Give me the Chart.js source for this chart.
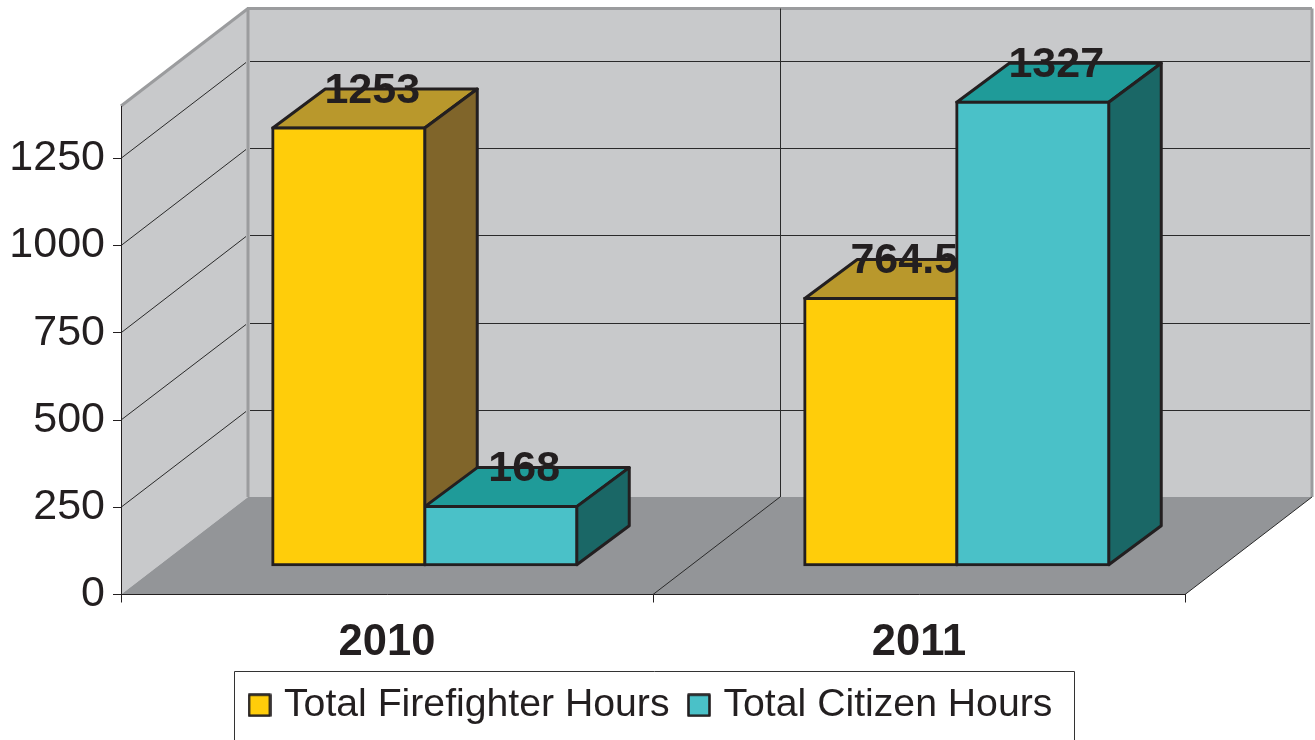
<!DOCTYPE html>
<html>
<head>
<meta charset="utf-8">
<style>html,body{margin:0;padding:0;background:#fff}canvas{display:block}</style>
<script src="https://cdn.jsdelivr.net/npm/chart.js@4"></script>
</head>
<body>
<canvas id="c" width="1315" height="740"></canvas>
<script>
const categories = ['2010', '2011'];
const firefighterHours = [1253, 764.5];
const citizenHours = [168, 1327];
const yTickValues = [0, 250, 500, 750, 1000, 1250];
const yMax = 1400;

const INK = '#231f20';
const FONT = '"Liberation Sans", Arial, sans-serif';
const WALL_DX = 127, WALL_DY = 97.5;
const BAR_DX = 37.75, BAR_DY = 29.3, BAR_DEPTH_X = 52.5, BAR_DEPTH_Y = 39;
const faceColors = [
  {front:'#ffcd0a', top:'#b9982c', side:'#80652a'},
  {front:'#4ac1c8', top:'#1f9b99', side:'#1a6766'}
];

function poly(ctx, pts, fill, stroke, lw) {
  ctx.beginPath();
  pts.forEach((p, i) => i ? ctx.lineTo(p[0], p[1]) : ctx.moveTo(p[0], p[1]));
  ctx.closePath();
  if (fill) { ctx.fillStyle = fill; ctx.fill(); }
  if (stroke) { ctx.strokeStyle = stroke; ctx.lineWidth = lw; ctx.lineJoin = 'round'; ctx.stroke(); }
}
function line(ctx, x1, y1, x2, y2, color, lw) {
  ctx.beginPath(); ctx.moveTo(x1, y1); ctx.lineTo(x2, y2);
  ctx.strokeStyle = color; ctx.lineWidth = lw; ctx.stroke();
}
function legendSwatch(color) {
  const c = document.createElement('canvas');
  c.width = 24; c.height = 24;
  const g = c.getContext('2d');
  g.fillStyle = color; g.fillRect(1.5, 1.5, 21, 21);
  g.strokeStyle = INK; g.lineWidth = 2.6; g.lineJoin = 'round'; g.strokeRect(1.5, 1.5, 21, 21);
  return c;
}

const scene3d = {
  id: 'scene3d',
  beforeDraw(chart) {
    const {ctx, scales:{x, y}} = chart;
    const L = x.left, R = x.right, B = y.getPixelForValue(0), T = y.getPixelForValue(yMax);
    ctx.save();
    poly(ctx, [[L,T],[L+WALL_DX,T-WALL_DY],[L+WALL_DX,B-WALL_DY],[L,B]], '#c8c9cb');
    poly(ctx, [[L+WALL_DX,T-WALL_DY],[R+WALL_DX,T-WALL_DY],[R+WALL_DX,B-WALL_DY],[L+WALL_DX,B-WALL_DY]], '#c8c9cb');
    poly(ctx, [[L,B],[R,B],[R+WALL_DX,B-WALL_DY],[L+WALL_DX,B-WALL_DY]], '#939598');
    const frame = '#9b9c9e';
    line(ctx, L, T, L+WALL_DX, T-WALL_DY, frame, 3);
    line(ctx, L+WALL_DX, T-WALL_DY, L+WALL_DX, B-WALL_DY, frame, 3);
    line(ctx, L+WALL_DX-1, T-WALL_DY, R+WALL_DX, T-WALL_DY, frame, 3);
    line(ctx, R+WALL_DX, T-WALL_DY, R+WALL_DX, B-WALL_DY, frame, 3);
    yTickValues.slice(1).forEach(v => {
      const py = y.getPixelForValue(v);
      const back = Math.round(py - WALL_DY) + 0.5;
      line(ctx, L, py, L+WALL_DX-2, back+1, '#2a2a2a', 1);
      line(ctx, L+WALL_DX+2, back, R+WALL_DX-2, back, '#2a2a2a', 1);
    });
    const mid = (x.getPixelForValue(0) + x.getPixelForValue(1)) / 2;
    line(ctx, mid, B, mid+WALL_DX, B-WALL_DY, '#2a2a2a', 1);
    line(ctx, mid+WALL_DX+.5, T-WALL_DY, mid+WALL_DX+.5, B-WALL_DY, '#2a2a2a', 1);
    line(ctx, R, B, R+WALL_DX, B-WALL_DY, '#2a2a2a', 1);
    ctx.restore();
  },
  beforeDatasetsDraw(chart) {
    const {ctx} = chart;
    ctx.save();
    ctx.translate(BAR_DX, BAR_DY * -1);
    categories.forEach((_, i) => {
      [0, 1].forEach(d => {
        const el = chart.getDatasetMeta(d).data[i];
        const p = el.getProps(['x','y','base','width'], true);
        const l = p.x - p.width/2, r = p.x + p.width/2, t = p.y, b = p.base;
        const c = faceColors[d];
        poly(ctx, [[l,t],[r,t],[r+BAR_DEPTH_X,t-BAR_DEPTH_Y],[l+BAR_DEPTH_X,t-BAR_DEPTH_Y]], c.top, INK, 3);
        poly(ctx, [[r,t],[r+BAR_DEPTH_X,t-BAR_DEPTH_Y],[r+BAR_DEPTH_X,b-BAR_DEPTH_Y],[r,b]], c.side, INK, 3);
      });
    });
  },
  afterDatasetsDraw(chart) {
    const {ctx} = chart;
    ctx.restore();
    ctx.save();
    ctx.font = 'bold 43px ' + FONT;
    ctx.fillStyle = INK;
    ctx.textAlign = 'center';
    ctx.textBaseline = 'middle';
    chart.data.datasets.forEach((ds, d) => {
      chart.getDatasetMeta(d).data.forEach((el, i) => {
        const p = el.getProps(['x','y'], true);
        ctx.fillText(String(ds.data[i]), p.x + BAR_DX + 23.5, p.y - BAR_DY - 37);
      });
    });
    ctx.restore();
  },
  afterLayout(chart) {
    const lg = chart.legend;
    lg.left = 230; lg.right = 1315; lg.width = 1085;
    lg.top = 661; lg.bottom = 745; lg.height = 84;
    if (lg.adjustHitBoxes) lg.adjustHitBoxes();
  },
  afterDraw(chart) {
    const {ctx} = chart;
    ctx.save();
    ctx.strokeStyle = '#333';
    ctx.lineWidth = 1;
    ctx.beginPath();
    ctx.moveTo(234.5, 745); ctx.lineTo(234.5, 671.5); ctx.lineTo(1074.5, 671.5); ctx.lineTo(1074.5, 745);
    ctx.stroke();
    ctx.restore();
  }
};

new Chart(document.getElementById('c'), {
  type: 'bar',
  data: {
    labels: categories,
    datasets: [
      {label:'Total Firefighter Hours', data:firefighterHours, backgroundColor:faceColors[0].front, borderColor:INK, borderWidth:3, borderSkipped:false, inflateAmount:1.5, clip:false},
      {label:'Total Citizen Hours', data:citizenHours, backgroundColor:faceColors[1].front, borderColor:INK, borderWidth:3, borderSkipped:false, inflateAmount:1.5, clip:false}
    ]
  },
  plugins: [scene3d],
  options: {
    responsive: false,
    animation: false,
    devicePixelRatio: 1,
    layout: {padding: {left:0, right:130, top:106, bottom:0}},
    datasets: {bar: {categoryPercentage:0.5714, barPercentage:1}},
    plugins: {
      tooltip: {enabled:false},
      legend: {
        display: true,
        position: 'bottom',
        align: 'start',
        labels: {
          color: INK,
          font: {family:FONT, size:39.2},
          usePointStyle: true,
          pointStyleWidth: 9.8,
          padding: 24.6,
          generateLabels: chart => chart.data.datasets.map((ds, i) => ({
            text: ds.label, datasetIndex: i, fontColor: INK, pointStyle: legendSwatch(faceColors[i].front), hidden:false, lineWidth:0
          }))
        }
      }
    },
    scales: {
      x: {
        type: 'category',
        afterFit(s) { s.height = 71.7; },
        grid: {drawOnChartArea:false, drawTicks:true, tickLength:8, color:INK, lineWidth:1},
        border: {display:true, color:INK, width:1},
        ticks: {color:INK, font:{family:FONT, size:43.5, weight:'bold'}, padding:14, maxRotation:0}
      },
      y: {
        type: 'linear',
        min: 0,
        max: yMax,
        afterFit(s) { s.width = 121; },
        afterBuildTicks(s) { s.ticks = yTickValues.map(v => ({value:v})); },
        grid: {drawOnChartArea:false, drawTicks:true, tickLength:8, color:INK, lineWidth:1},
        border: {display:true, color:INK, width:1},
        ticks: {color:INK, font:{family:FONT, size:43}, padding:8, callback: v => String(v)}
      }
    }
  }
});
</script>
</body>
</html>
